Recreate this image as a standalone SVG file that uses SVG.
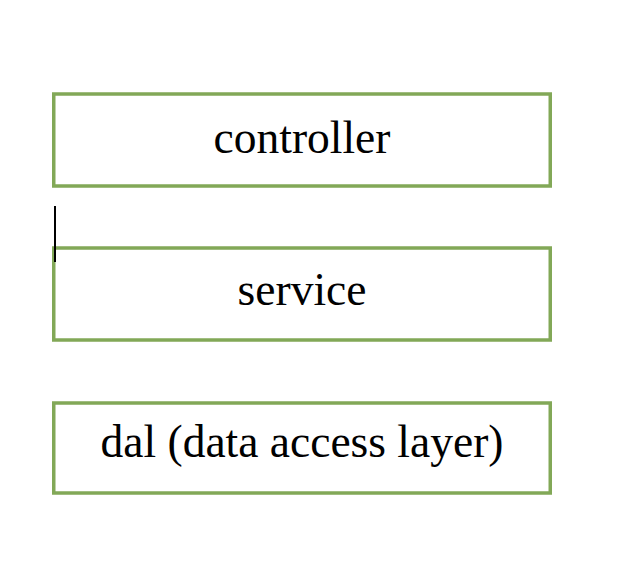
<svg xmlns="http://www.w3.org/2000/svg" width="630" height="580" viewBox="0 0 630 580">
<style>
.box{fill:#ffffff;stroke:#82a857;stroke-width:3.5}
.lbl{font-family:"Liberation Serif","Times New Roman",serif;font-size:45.5px;fill:#000;text-anchor:middle}
</style>
<rect width="630" height="580" fill="#ffffff"/>
<g id="controller"><rect class="box" x="53.75" y="94" width="496.5" height="92"/><text class="lbl" x="302" y="152.5">controller</text></g>
<g id="service"><rect class="box" x="53.75" y="248" width="496.5" height="92"/><text class="lbl" x="302" y="304.5">service</text></g>
<g id="dal"><rect class="box" x="53.75" y="403" width="496.5" height="90"/><text class="lbl" x="302" y="457">dal (data access layer)</text></g>
<g id="connectors"><line x1="55" y1="206" x2="55" y2="262" stroke="#000" stroke-width="2"/></g>
</svg>
